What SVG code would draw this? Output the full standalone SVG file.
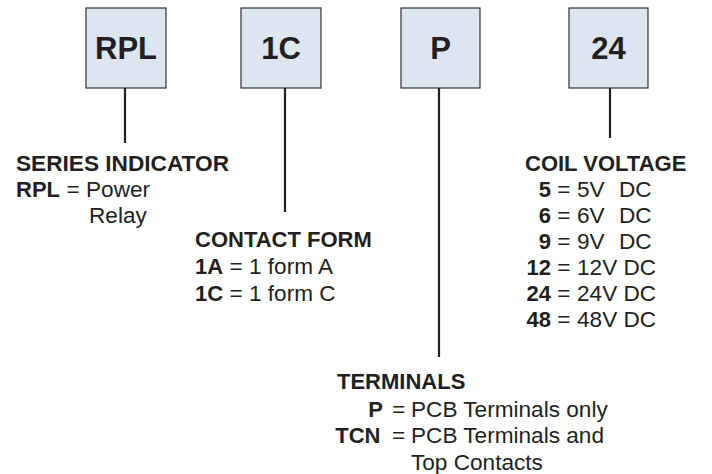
<svg xmlns="http://www.w3.org/2000/svg" width="712" height="474" viewBox="0 0 712 474">
<style>
.box{fill:#dde5f0;stroke:#333333;stroke-width:1.2}
.lbl{font-family:"Liberation Sans",Arial,sans-serif;font-weight:bold;font-size:31px;fill:#231f20;text-anchor:middle}
.t{font-family:"Liberation Sans",Arial,sans-serif;font-size:22.6px;fill:#231f20}
.b{font-weight:bold;font-size:22px}
.e{text-anchor:end}
.conn line{stroke:#231f20;stroke-width:2.2}
</style>
<rect width="712" height="474" fill="#ffffff"/>
<g id="node-rpl"><rect class="box" x="86" y="8" width="80" height="80"/><text class="lbl" x="126" y="59">RPL</text></g>
<g id="node-1c"><rect class="box" x="241" y="8" width="80" height="80"/><text class="lbl" x="281" y="59">1C</text></g>
<g id="node-p"><rect class="box" x="401" y="8" width="79" height="80"/><text class="lbl" x="440.5" y="59">P</text></g>
<g id="node-24"><rect class="box" x="569" y="8" width="79" height="80"/><text class="lbl" x="608.5" y="59">24</text></g>
<g class="conn" id="connectors">
<line x1="125" y1="88" x2="125" y2="143"/>
<line x1="285" y1="88" x2="285" y2="212"/>
<line x1="439" y1="88" x2="439" y2="357"/>
<line x1="610" y1="88" x2="610" y2="138"/>
</g>
<g id="series">
<text class="t b" x="16" y="170.5" textLength="213" lengthAdjust="spacingAndGlyphs">SERIES INDICATOR</text>
<text class="t b" x="16" y="196.5">RPL</text><text class="t" x="66.5" y="196.5">=</text><text class="t" x="86" y="196.5">Power</text>
<text class="t" x="89" y="222.5">Relay</text>
</g>
<g id="contact">
<text class="t b" x="195" y="247">CONTACT FORM</text>
<text class="t b" x="195" y="274">1A</text><text class="t" x="229.5" y="274">=</text><text class="t" x="249" y="274">1 form A</text>
<text class="t b" x="195" y="301">1C</text><text class="t" x="229.5" y="301">=</text><text class="t" x="249" y="301">1 form C</text>
</g>
<g id="coil">
<text class="t b" x="525" y="170.5">COIL VOLTAGE</text>
<text class="t b e" x="551" y="196.5">5</text><text class="t" x="557.3" y="196.5">=</text><text class="t" x="577" y="196.5">5V</text><text class="t" x="619" y="196.5">DC</text>
<text class="t b e" x="551" y="222.5">6</text><text class="t" x="557.3" y="222.5">=</text><text class="t" x="577" y="222.5">6V</text><text class="t" x="619" y="222.5">DC</text>
<text class="t b e" x="551" y="248.5">9</text><text class="t" x="557.3" y="248.5">=</text><text class="t" x="577" y="248.5">9V</text><text class="t" x="619" y="248.5">DC</text>
<text class="t b e" x="551" y="274.5">12</text><text class="t" x="557.3" y="274.5">=</text><text class="t" x="577" y="274.5">12V DC</text>
<text class="t b e" x="551" y="300.5">24</text><text class="t" x="557.3" y="300.5">=</text><text class="t" x="577" y="300.5">24V DC</text>
<text class="t b e" x="551" y="326.5">48</text><text class="t" x="557.3" y="326.5">=</text><text class="t" x="577" y="326.5">48V DC</text>
</g>
<g id="terminals">
<text class="t b" x="337" y="389">TERMINALS</text>
<text class="t b e" x="383" y="416.5">P</text><text class="t" x="392" y="416.5">=</text><text class="t" x="411" y="416.5">PCB Terminals only</text>
<text class="t b e" x="380.5" y="443">TCN</text><text class="t" x="392" y="443">=</text><text class="t" x="411" y="443">PCB Terminals and</text>
<text class="t" x="411" y="469.5">Top Contacts</text>
</g>
</svg>
